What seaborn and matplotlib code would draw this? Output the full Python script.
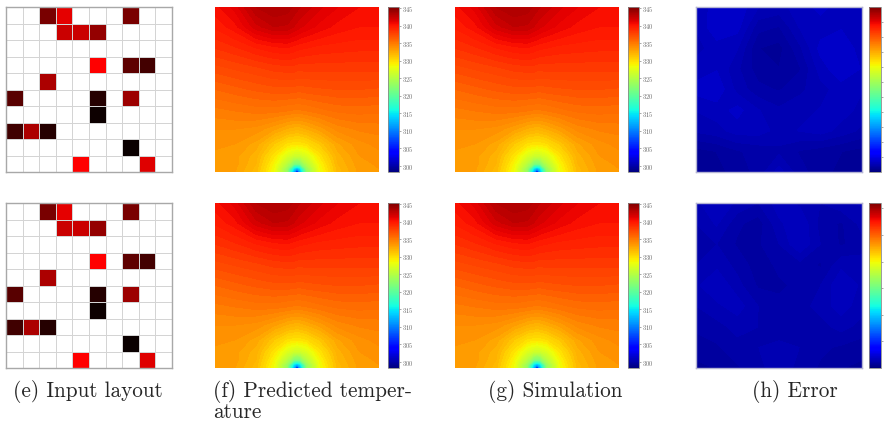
import numpy as np
import matplotlib
matplotlib.use("Agg")
import matplotlib.pyplot as plt
from matplotlib.colors import LinearSegmentedColormap, Normalize
from matplotlib.cm import ScalarMappable
import seaborn as sns

sns.set_style("white")
plt.rcParams["font.family"] = ["cmr10", "DejaVu Serif"]
plt.rcParams["axes.formatter.use_mathtext"] = True

# ---------- input layout (10 x 10 grid, 0 = empty cell) ----------
LAYOUT = [
    [0, 0, .50, .90, 0, 0, 0, .50, 0, 0],
    [0, 0, 0, .80, .80, .60, 0, 0, 0, 0],
    [0, 0, 0, 0, 0, 0, 0, 0, 0, 0],
    [0, 0, 0, 0, 0, 1.0, 0, .40, .30, 0],
    [0, 0, .69, 0, 0, 0, 0, 0, 0, 0],
    [.38, 0, 0, 0, 0, .19, 0, .63, 0, 0],
    [0, 0, 0, 0, 0, .10, 0, 0, 0, 0],
    [.29, .69, .19, 0, 0, 0, 0, 0, 0, 0],
    [0, 0, 0, 0, 0, 0, 0, .09, 0, 0],
    [0, 0, 0, 0, 1.0, 0, 0, 0, .88, 0],
]

# ---------- temperature field (K), rows bottom -> top ----------
TX = [0, .12, .25, .36, .44, .48, .5, .52, .56, .64, .75, .88, 1]
TY = [0, .02, .05, .1, .17, .26, .37, .5, .63, .76, .88, 1]
TEMP = [
    [333.2, 333.0, 331.7, 328.3, 323.0, 312.0, 299.0, 312.0, 323.0, 328.3, 331.7, 333.2, 333.5],
    [333.2, 333.1, 331.8, 328.4, 323.3, 314.5, 312.0, 314.5, 323.3, 328.4, 331.8, 333.2, 333.5],
    [333.3, 333.2, 332.0, 328.8, 325.0, 322.0, 321.5, 322.0, 325.0, 328.8, 332.0, 333.3, 333.6],
    [333.4, 333.2, 332.2, 329.6, 327.3, 326.6, 326.5, 326.6, 327.3, 329.6, 332.3, 333.5, 333.8],
    [333.6, 333.5, 332.8, 331.0, 329.8, 329.6, 329.5, 329.6, 329.9, 331.1, 332.9, 333.8, 334.2],
    [334.0, 334.0, 333.8, 333.1, 332.4, 332.2, 332.1, 332.2, 332.5, 333.2, 334.2, 334.6, 334.7],
    [334.8, 335.0, 335.2, 335.2, 335.0, 334.9, 334.9, 334.9, 335.0, 335.3, 335.6, 335.7, 335.6],
    [336.0, 336.3, 336.6, 336.8, 336.8, 336.8, 336.7, 336.7, 336.8, 336.9, 337.0, 337.0, 336.9],
    [337.3, 337.6, 337.9, 338.2, 338.3, 338.3, 338.2, 338.2, 338.2, 338.2, 338.2, 338.2, 338.2],
    [338.6, 339.0, 339.6, 340.0, 340.1, 339.9, 339.8, 339.7, 339.6, 339.4, 339.3, 339.2, 339.2],
    [339.6, 340.3, 341.8, 342.5, 342.4, 342.0, 341.8, 341.6, 341.3, 340.8, 340.3, 340.0, 340.0],
    [340.3, 341.2, 343.0, 343.5, 343.3, 342.9, 342.7, 342.5, 342.2, 341.6, 341.0, 340.5, 340.4],
]
T_MIN, T_MAX = 298.3, 345.3
T_TICKS = [300, 305, 310, 315, 320, 325, 330, 335, 340, 345]

# ---------- error fields, rows top -> bottom ----------
ERR_1 = [
    [.030, .034, .036, .028, .026, .030, .034, .030, .028],
    [.028, .036, .034, .020, .018, .028, .030, .032, .030],
    [.026, .030, .028, .014, .012, .022, .034, .036, .030],
    [.030, .032, .024, .016, .014, .018, .030, .036, .032],
    [.034, .036, .026, .020, .018, .022, .026, .030, .028],
    [.028, .030, .034, .028, .024, .026, .028, .030, .026],
    [.024, .026, .030, .030, .026, .028, .030, .026, .022],
    [.012, .014, .018, .020, .022, .018, .016, .014, .012],
    [.010, .012, .016, .020, .030, .020, .016, .012, .010],
]
ERR_2 = [
    [.030, .036, .030, .026, .034, .030, .026, .030, .032],
    [.026, .032, .022, .018, .030, .036, .024, .020, .028],
    [.022, .026, .020, .020, .026, .036, .026, .020, .024],
    [.026, .030, .024, .018, .022, .024, .020, .030, .028],
    [.030, .036, .028, .020, .020, .022, .026, .036, .030],
    [.026, .030, .034, .026, .022, .024, .028, .034, .028],
    [.022, .024, .028, .026, .022, .024, .024, .028, .024],
    [.018, .020, .024, .026, .028, .026, .022, .020, .018],
    [.014, .016, .020, .024, .030, .024, .020, .016, .014],
]
ERR_MAX = [0.55, 0.62]
ERR_TICKS = [[.05, .1, .15, .2, .25, .3, .35, .4, .45, .5], [.1, .2, .3, .4, .5, .6]]

CAPTIONS = ["(e) Input layout", "(f) Predicted temper-", "(g) Simulation", "(h) Error"]

W, H = 884, 429
fig = plt.figure(figsize=(W / 100, H / 100), dpi=100)

def box(x0, y0, x1, y1):
    return [x0 / W, 1 - y1 / H, (x1 - x0) / W, (y1 - y0) / H]

red = LinearSegmentedColormap.from_list("blk_red", ["#000000", "#ff0000"])
red.set_under("white")

def style_cbar(cb, size=4.5):
    cb.outline.set_edgecolor("#8a8a8a")
    cb.outline.set_linewidth(0.6)
    cb.ax.tick_params(labelsize=size, length=1.5, width=0.4, colors="#666666", pad=1)

rows = [(7, 172), (203, 368)]
for r, (y0, y1) in enumerate(rows):
    # input layout
    ax = fig.add_axes(box(6, y0, 172, y1))
    sns.heatmap(np.array(LAYOUT), ax=ax, cmap=red, vmin=0.05, vmax=1.0, cbar=False,
                linewidths=0.6, linecolor="#d4d4d4", xticklabels=False, yticklabels=False)
    for s in ax.spines.values():
        s.set_visible(True); s.set_color("#a8a8a8"); s.set_linewidth(1.0)

    # predicted + simulation
    for (x0, x1, c0, c1) in [(215, 379, 388, 399), (455, 619, 628, 639)]:
        ax = fig.add_axes(box(x0, y0, x1, y1))
        ax.contourf(TX, TY, np.array(TEMP), levels=np.arange(298, 346.5, 0.5),
                    cmap="jet", vmin=T_MIN, vmax=T_MAX)
        ax.set_xlim(0, 1); ax.set_ylim(0, 1); ax.axis("off")
        cax = fig.add_axes(box(c0, y0, c1, y1))
        cb = fig.colorbar(ScalarMappable(Normalize(T_MIN, T_MAX), "jet"), cax=cax, ticks=T_TICKS)
        style_cbar(cb)

    # error
    err = np.array(ERR_1 if r == 0 else ERR_2)[::-1]
    ax = fig.add_axes(box(696, y0, 862, y1))
    g = np.linspace(0, 1, err.shape[0])
    ax.contourf(g, g, err, levels=np.linspace(0, ERR_MAX[r], 120), cmap="jet",
                vmin=0, vmax=ERR_MAX[r])
    ax.set_xlim(0, 1); ax.set_ylim(0, 1)
    ax.set_xticks([]); ax.set_yticks([])
    for s in ax.spines.values():
        s.set_color("#b4b4d4"); s.set_linewidth(1.0)
    cax = fig.add_axes(box(869, y0, 881, y1))
    cb = fig.colorbar(ScalarMappable(Normalize(0, ERR_MAX[r]), "jet"), cax=cax, ticks=ERR_TICKS[r])
    style_cbar(cb)

# captions
cap_x = [13, 213, 488, 752]
for x, t in zip(cap_x, CAPTIONS):
    fig.text(x / W, 1 - 397 / H, t, fontsize=15.3, ha="left", va="baseline")
fig.text(213 / W, 1 - 418 / H, "ature", fontsize=15.3, ha="left", va="baseline")

fig.savefig("out.png", dpi=100, facecolor="white")
